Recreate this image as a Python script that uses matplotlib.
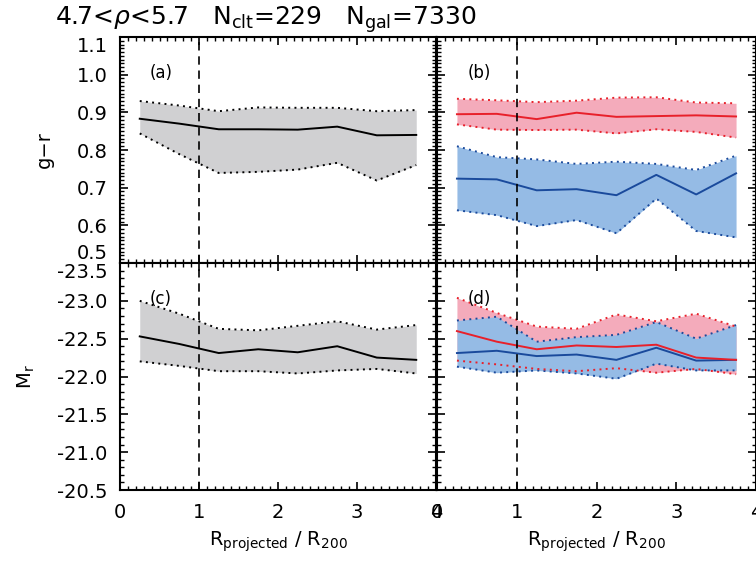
import numpy as np
import matplotlib
matplotlib.use('Agg')
import matplotlib.pyplot as plt
from matplotlib.ticker import MultipleLocator

# radial bins (R_projected / R_200)
r_bins = [0.25, 0.75, 1.25, 1.75, 2.25, 2.75, 3.25, 3.75]

# (a) g-r, all galaxies
gr_all     = [0.883, 0.870, 0.855, 0.855, 0.854, 0.862, 0.839, 0.840]
gr_all_hi  = [0.930, 0.918, 0.903, 0.913, 0.912, 0.912, 0.903, 0.906]
gr_all_lo  = [0.844, 0.789, 0.739, 0.742, 0.748, 0.766, 0.719, 0.760]

# (b) g-r, red / blue
gr_red     = [0.895, 0.896, 0.882, 0.899, 0.888, 0.890, 0.892, 0.889]
gr_red_hi  = [0.936, 0.932, 0.927, 0.931, 0.939, 0.940, 0.926, 0.924]
gr_red_lo  = [0.868, 0.854, 0.853, 0.854, 0.844, 0.855, 0.848, 0.833]
gr_blue    = [0.724, 0.722, 0.693, 0.696, 0.680, 0.734, 0.682, 0.738]
gr_blue_hi = [0.810, 0.781, 0.775, 0.763, 0.769, 0.763, 0.747, 0.785]
gr_blue_lo = [0.640, 0.627, 0.598, 0.614, 0.579, 0.671, 0.585, 0.568]

# (c) Mr, all galaxies
mr_all     = [-22.53, -22.43, -22.31, -22.36, -22.32, -22.40, -22.25, -22.22]
mr_all_hi  = [-23.00, -22.83, -22.63, -22.61, -22.67, -22.73, -22.62, -22.68]
mr_all_lo  = [-22.20, -22.14, -22.07, -22.07, -22.04, -22.08, -22.10, -22.04]

# (d) Mr, red / blue
mr_red     = [-22.60, -22.46, -22.36, -22.41, -22.39, -22.42, -22.25, -22.22]
mr_red_hi  = [-23.04, -22.84, -22.66, -22.63, -22.82, -22.73, -22.83, -22.66]
mr_red_lo  = [-22.21, -22.16, -22.10, -22.07, -22.11, -22.05, -22.10, -22.03]
mr_blue    = [-22.31, -22.34, -22.27, -22.29, -22.22, -22.38, -22.21, -22.22]
mr_blue_hi = [-22.74, -22.79, -22.46, -22.52, -22.55, -22.72, -22.50, -22.68]
mr_blue_lo = [-22.13, -22.05, -22.08, -22.04, -21.97, -22.17, -22.08, -22.08]

GRAY_FILL = '#d0d0d2'
RED_FILL, RED_LINE = '#f4abbb', '#e8202a'
BLUE_FILL, BLUE_LINE = '#95bbe5', '#1a4a9c'
DOT = (0, (1, 2.2))

plt.rcParams['font.family'] = 'DejaVu Sans'
plt.rcParams['font.size'] = 14

W, H = 756, 567
fig = plt.figure(figsize=(W/100, H/100), dpi=100)

def box(x0, x1, ytop, ybot):
    return [x0/W, 1-ybot/H, (x1-x0)/W, (ybot-ytop)/H]

ax_a = fig.add_axes(box(120, 436, 37, 263))
ax_b = fig.add_axes(box(437, 756, 37, 263))
ax_c = fig.add_axes(box(120, 436, 263, 490))
ax_d = fig.add_axes(box(437, 756, 263, 490))

def band(ax, lo, hi, mid, fill, line, draw_fill=True, draw_line=True):
    if draw_fill:
        ax.fill_between(r_bins, lo, hi, color=fill, lw=0, zorder=1)
    if draw_line:
        ax.plot(r_bins, hi, color=line, ls=DOT, lw=1.4, zorder=3)
        ax.plot(r_bins, lo, color=line, ls=DOT, lw=1.4, zorder=3)
        ax.plot(r_bins, mid, color=line, lw=1.4, zorder=4)

band(ax_a, gr_all_lo, gr_all_hi, gr_all, GRAY_FILL, 'k')
band(ax_b, gr_red_lo, gr_red_hi, gr_red, RED_FILL, RED_LINE)
band(ax_b, gr_blue_lo, gr_blue_hi, gr_blue, BLUE_FILL, BLUE_LINE)
band(ax_c, mr_all_lo, mr_all_hi, mr_all, GRAY_FILL, 'k')
band(ax_d, mr_red_lo, mr_red_hi, mr_red, RED_FILL, RED_LINE, draw_line=False)
band(ax_d, mr_blue_lo, mr_blue_hi, mr_blue, BLUE_FILL, BLUE_LINE)
band(ax_d, mr_red_lo, mr_red_hi, mr_red, RED_FILL, RED_LINE, draw_fill=False)

for ax, lab in zip([ax_a, ax_b, ax_c, ax_d], ['(a)', '(b)', '(c)', '(d)']):
    ax.axvline(1, color='k', lw=1.2, ls=(0, (5, 3.5)), zorder=5)
    ax.set_xlim(0, 4)
    ax.xaxis.set_major_locator(MultipleLocator(1))
    ax.xaxis.set_minor_locator(MultipleLocator(0.1))
    ax.tick_params(which='both', direction='in', top=True, right=True)
    ax.tick_params(which='major', length=6, width=1.2, pad=9)
    ax.tick_params(which='minor', length=3, width=1)
    for s in ax.spines.values():
        s.set_linewidth(1.5)
    ax.text(0.095, 0.84, lab, transform=ax.transAxes, fontsize=12, va='center', zorder=6)

for ax in [ax_a, ax_b]:
    ax.set_ylim(0.5, 1.1)
    ax.yaxis.set_major_locator(MultipleLocator(0.1))
    ax.yaxis.set_minor_locator(MultipleLocator(0.01))
    ax.tick_params(labelbottom=False)

for ax in [ax_c, ax_d]:
    ax.set_ylim(-20.5, -23.5)
    ax.yaxis.set_major_locator(MultipleLocator(0.5))
    ax.yaxis.set_minor_locator(MultipleLocator(0.1))
    ax.set_xlabel(r'R$_{\rm projected}$ / R$_{200}$', fontsize=14, labelpad=6)

ax_a.set_yticks([0.5, 0.6, 0.7, 0.8, 0.9, 1.0, 1.1])
ax_a.set_yticklabels(['0.5', '0.6', '0.7', '0.8', '0.9', '1.0', '1.1'])
ax_a.get_yticklabels()[0].set_va('bottom')
ax_a.get_yticklabels()[-1].set_va('top')
ax_c.set_yticks([-23.5, -23.0, -22.5, -22.0, -21.5, -21.0, -20.5])
ax_c.set_yticklabels(['-23.5', '-23.0', '-22.5', '-22.0', '-21.5', '-21.0', '-20.5'])
ax_c.get_yticklabels()[0].set_va('top')
ax_b.tick_params(labelleft=False)
ax_d.tick_params(labelleft=False)

ax_a.set_ylabel('g\u2212r', fontsize=14, labelpad=16)
ax_c.set_ylabel(r'M$_{\rm r}$', fontsize=14, labelpad=14)

fig.text(55/W, 1-25/H, r'4.7<$\rho$<5.7   N$_{\rm clt}$=229   N$_{\rm gal}$=7330',
         fontsize=18, ha='left', va='baseline')

fig.savefig('out.png', dpi=100)
plt.close(fig)
